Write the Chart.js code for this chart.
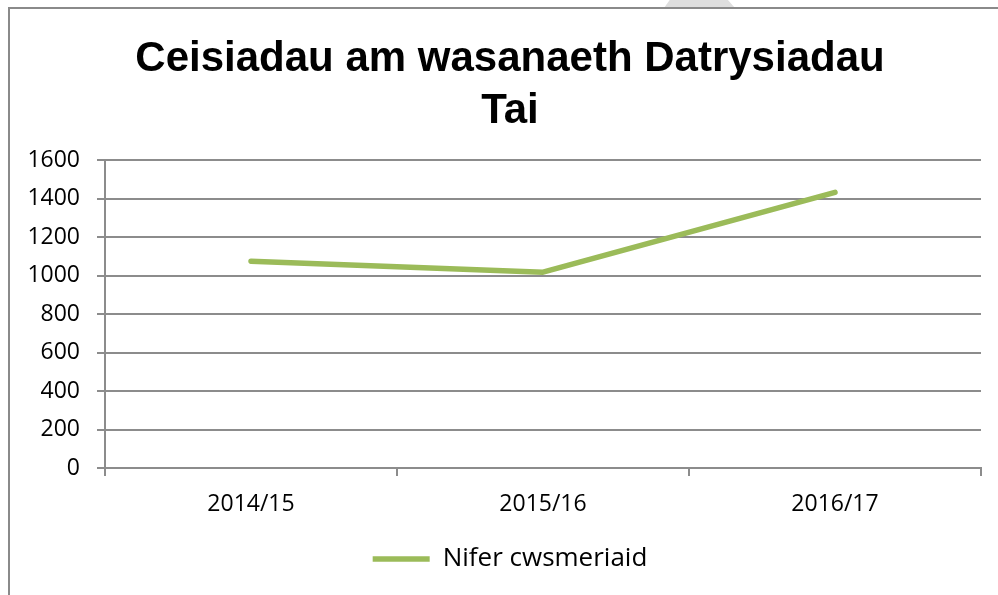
<!DOCTYPE html>
<html>
<head>
<meta charset="utf-8">
<script src="https://cdn.jsdelivr.net/npm/chart.js@4"></script>
<style>
  html, body { margin: 0; padding: 0; background: #fff; }
  #wrap { position: relative; width: 998px; height: 595px; overflow: hidden; }
  #frame { position: absolute; left: 8px; top: 7px; width: 1200px; height: 800px;
           border-left: 2px solid #8a8a8a; border-top: 2px solid #8a8a8a; }
  #mark { position: absolute; left: 664px; top: 0; width: 71px; height: 8px; background: #dedede;
          clip-path: polygon(8% 0, 90% 0, 100% 100%, 0 100%); }
  canvas { position: absolute; left: 0; top: 0; }
</style>
</head>
<body>
<div id="wrap">
  <div id="mark"></div>
  <div id="frame"></div>
  <canvas id="chart" width="998" height="595"></canvas>
</div>
<script>
// data
const years = ['2014/15', '2015/16', '2016/17'];
const customers = [1075, 1018, 1433];
const yTicks = [0, 200, 400, 600, 800, 1000, 1200, 1400, 1600];
const titleLines = ['Ceisiadau am wasanaeth Datrysiadau', 'Tai'];
const seriesName = 'Nifer cwsmeriaid';

const GREEN = '#9BBB59';
const GRID = '#8c8c8c';
const tickFont = { family: '"Open Sans", sans-serif', size: 23 };

const ctx = document.getElementById('chart');
new Chart(ctx, {
    type: 'line',
    data: {
        labels: years,
        datasets: [{
            label: seriesName,
            data: customers,
            borderColor: GREEN,
            backgroundColor: GREEN,
            borderWidth: 5.5,
            borderCapStyle: 'round',
            borderJoinStyle: 'round',
            tension: 0,
            pointRadius: 0,
            pointHoverRadius: 0,
            yAxisID: 'y'
        }]
    },
    options: {
        responsive: false,
        animation: false,
        layout: { padding: { left: 22, right: 0, top: 0, bottom: 13 } },
        plugins: {
            tooltip: { enabled: false },
            title: {
                display: true,
                text: titleLines,
                color: '#000',
                font: { family: '"Liberation Sans", Arial, sans-serif', size: 42, weight: 'bold', lineHeight: 1.24 },
                padding: { top: 33, bottom: 23 }
            },
            legend: {
                position: 'bottom',
                labels: {
                    color: '#000',
                    font: { family: '"Open Sans", sans-serif', size: 26 },
                    usePointStyle: true,
                    pointStyle: 'line',
                    pointStyleWidth: 57,
                    padding: 12
                }
            }
        },
        scales: {
            x: {
                offset: true,
                grid: { offset: true, drawOnChartArea: false, drawTicks: true, tickLength: 8, color: GRID, lineWidth: 2 },
                border: { color: GRID, width: 2 },
                ticks: { color: '#000', font: tickFont, padding: 15, maxRotation: 0 },
                afterFit: s => { s.height = 66; }
            },
            y: {
                min: 0,
                max: 1600,
                afterBuildTicks: s => { s.ticks = yTicks.map(v => ({ value: v })); },
                grid: { color: GRID, lineWidth: 2, tickLength: 8 },
                border: { color: GRID, width: 2 },
                ticks: { color: '#000', font: tickFont, padding: 17, callback: v => String(v) },
                afterFit: s => { s.width = 83; }
            },
            // empty right-hand strip so the plot ends where the reference's does
            yRight: {
                position: 'right',
                min: 0,
                max: 1,
                grid: { drawOnChartArea: false, drawTicks: false },
                border: { display: false },
                ticks: { display: false },
                afterFit: s => { s.width = 17; }
            }
        }
    }
});
</script>
</body>
</html>
